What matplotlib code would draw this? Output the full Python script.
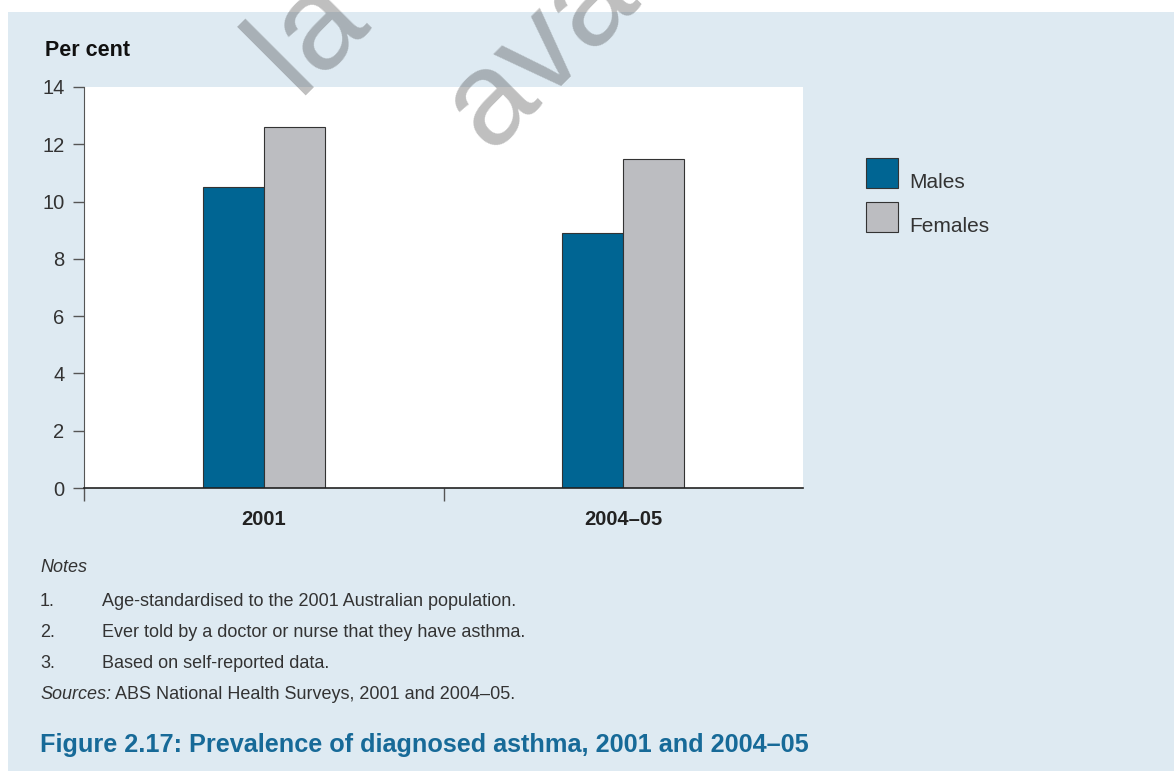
import matplotlib.pyplot as plt
from matplotlib.patches import Rectangle
import numpy as np

# data
categories = ['2001', '2004–05']
males = [10.5, 8.9]
females = [12.6, 11.5]
yticks = [0, 2, 4, 6, 8, 10, 12, 14]
notes = ['Age-standardised to the 2001 Australian population.',
         'Ever told by a doctor or nurse that they have asthma.',
         'Based on self-reported data.']
source = 'ABS National Health Surveys, 2001 and 2004–05.'
title = 'Figure 2.17: Prevalence of diagnosed asthma, 2001 and 2004–05'

W, H = 1174, 771


def fx(px):
    return px / W


def fy(py):
    return 1 - py / H


plt.rcParams['font.family'] = ['Liberation Sans', 'DejaVu Sans']
txt = '#333333'
male_col = '#006593'
female_col = '#bcbdc1'

fig = plt.figure(figsize=(W / 100, H / 100), dpi=100, facecolor='white')

# light blue panel behind everything
fig.add_artist(Rectangle((fx(8), 0), 1 - fx(8), fy(12), transform=fig.transFigure,
                         facecolor='#deeaf2', edgecolor='none', zorder=-10))

ax = fig.add_axes([fx(84), fy(488), fx(803) - fx(84), fy(87) - fy(488)])
x = np.arange(len(categories))
w = 0.17
ax.bar(x - w / 2, males, w, color=male_col, edgecolor='#333333', linewidth=0.8)
ax.bar(x + w / 2, females, w, color=female_col, edgecolor='#333333', linewidth=0.8)

ax.set_xlim(-0.5, 1.5)
ax.set_ylim(0, 14)
ax.set_yticks(yticks)
ax.tick_params(axis='y', length=8, width=1, color='#555555', labelsize=14.5,
               labelcolor=txt, pad=6)
ax.set_xticks([-0.5, 0.5])
ax.set_xticklabels([])
ax.set_xticks(x, minor=True)
ax.set_xticklabels(categories, minor=True, fontweight='bold', fontsize=14.5, color='#222222')
ax.tick_params(axis='x', which='major', length=9, width=1, color='#555555')
ax.tick_params(axis='x', which='minor', length=0, pad=16)
for s in ['top', 'right']:
    ax.spines[s].set_visible(False)
ax.spines['left'].set_color('#555555')
ax.spines['bottom'].set_color('#222222')
ax.spines['bottom'].set_linewidth(1.2)

fig.text(fx(45), fy(50), 'Per cent', fontweight='bold', fontsize=15.5, va='center', color='#111111')

# legend
for label, col, bottom in [('Males', male_col, 188), ('Females', female_col, 232)]:
    fig.add_artist(Rectangle((fx(866), fy(bottom)), fx(32), 30 / H, transform=fig.transFigure,
                             facecolor=col, edgecolor='#333333', linewidth=0.8))
    fig.text(fx(909), fy(bottom), label, fontsize=15, color=txt, va='baseline')

# notes
fs = 13
fig.text(fx(40), fy(572), 'Notes', fontsize=fs, style='italic', color=txt, va='baseline')
for i, n in enumerate(notes):
    yy = fy(606 + 31 * i)
    fig.text(fx(40), yy, f'{i + 1}.', fontsize=fs, color=txt, va='baseline')
    fig.text(fx(102), yy, n, fontsize=fs, color=txt, va='baseline')
t = fig.text(fx(40), fy(699), 'Sources:', fontsize=fs, style='italic', color=txt, va='baseline')
plt.annotate(' ' + source, xy=(1, 0), xycoords=t, fontsize=fs, color=txt,
             va='bottom', ha='left', annotation_clip=False)

fig.text(fx(40), fy(745), title, fontsize=18.2, fontweight='bold', color='#176a98', va='center')

# watermark fragments
for s, (px, py) in [('la', (297, 95)), ('ava', (490, 152))]:
    fig.text(fx(px), fy(py), s, fontsize=96, color='#2a2a2a', alpha=0.3, rotation=45,
             rotation_mode='anchor', ha='left', va='baseline', zorder=10)

plt.savefig('out.png', dpi=100)
